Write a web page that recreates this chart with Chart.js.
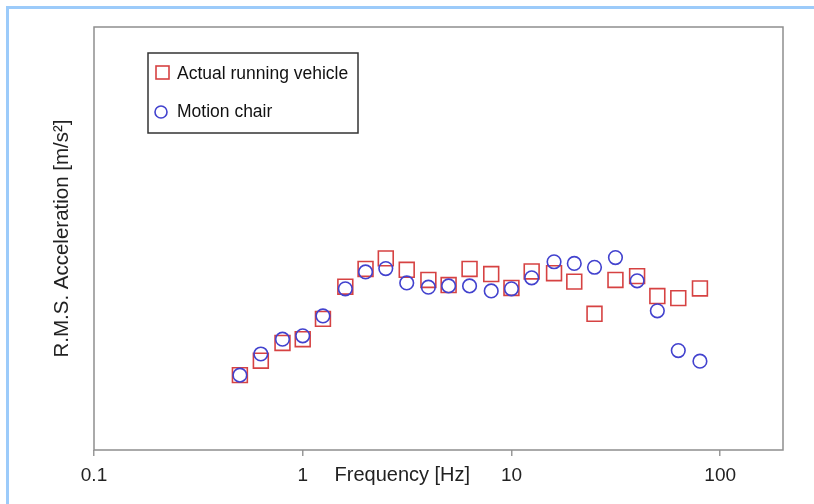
<!DOCTYPE html>
<html>
<head>
<meta charset="utf-8">
<script src="https://cdn.jsdelivr.net/npm/chart.js@4.4.0/dist/chart.umd.min.js"></script>
<style>
  body { margin: 0; background: #fff; }
  #frame { position: absolute; left: 6px; top: 6px; width: 808px; height: 498px;
           border-left: 3px solid #9ccbfa; border-top: 3px solid #9ccbfa; box-sizing: border-box; }
  #myChart { position: absolute; left: 0; top: 0; }
</style>
</head>
<body>
<div id="frame"></div>
<canvas id="myChart" width="814" height="504"></canvas>
<script>
// 1/3 octave band centre frequencies [Hz]
var freqs = [0.5, 0.63, 0.8, 1, 1.25, 1.6, 2, 2.5, 3.15, 4, 5, 6.3, 8, 10, 12.5, 16, 20, 25, 31.5, 40, 50, 63, 80];
// values (relative units, axis has no labels)
var vehicleRms = [17.7, 21.1, 25.3, 26.2, 31.0, 38.6, 42.8, 45.3, 42.6, 40.2, 39.0, 42.8, 41.6, 38.3, 42.2, 41.8, 39.8, 32.2, 40.2, 41.1, 36.4, 35.9, 38.2];
var chairRms = [17.7, 22.7, 26.2, 27.0, 31.7, 38.1, 42.1, 42.9, 39.5, 38.5, 38.8, 38.8, 37.6, 38.1, 40.7, 44.5, 44.1, 43.2, 45.5, 40.0, 32.9, 23.5, 21.0];
var xTicks = [0.1, 1, 10, 100];
var seriesNames = ['Actual running vehicle', 'Motion chair'];

var red = 'rgb(214, 66, 66)';
var blue = 'rgb(66, 66, 206)';
var font = "'Liberation Sans', Arial, sans-serif";

function toPoints(ys) {
    return freqs.map(function (f, i) { return { x: f, y: ys[i] }; });
}

// frame, x title and the boxed legend inside the plot
var extras = {
    id: 'extras',
    afterDraw: function (chart) {
        var ctx = chart.ctx;
        var a = chart.chartArea;
        ctx.save();
        ctx.strokeStyle = '#8e8e8e';
        ctx.lineWidth = 1.5;
        ctx.strokeRect(a.left, a.top, a.right - a.left, a.bottom - a.top);

        ctx.fillStyle = '#222';
        ctx.font = '20px ' + font;
        ctx.textAlign = 'center';
        ctx.textBaseline = 'middle';
        ctx.fillText('Frequency [Hz]', chart.scales.x.getPixelForValue(3), 475);

        // legend
        var lx = 148, ly = 53, lw = 210, lh = 80;
        ctx.fillStyle = '#fff';
        ctx.fillRect(lx, ly, lw, lh);
        ctx.strokeStyle = '#333';
        ctx.lineWidth = 1.5;
        ctx.strokeRect(lx, ly, lw, lh);

        ctx.lineWidth = 1.6;
        ctx.strokeStyle = red;
        ctx.strokeRect(156, 66, 13, 13);
        ctx.strokeStyle = blue;
        ctx.beginPath();
        ctx.arc(161, 112, 6, 0, Math.PI * 2);
        ctx.stroke();

        ctx.fillStyle = '#111';
        ctx.font = '17.5px ' + font;
        ctx.textAlign = 'left';
        ctx.fillText(seriesNames[0], 177, 74);
        ctx.fillText(seriesNames[1], 177, 112);
        ctx.restore();
    }
};

var ctx = document.getElementById('myChart').getContext('2d');
var myChart = new Chart(ctx, {
    type: 'scatter',
    data: {
        datasets: [{
            label: seriesNames[0],
            data: toPoints(vehicleRms),
            pointStyle: 'rect',
            pointRadius: 10.5,
            borderColor: red,
            backgroundColor: 'rgba(0,0,0,0)',
            borderWidth: 1.6,
            order: 1
        }, {
            label: seriesNames[1],
            data: toPoints(chairRms),
            pointStyle: 'circle',
            pointRadius: 6.8,
            borderColor: blue,
            backgroundColor: 'rgba(0,0,0,0)',
            borderWidth: 1.6,
            order: 0
        }]
    },
    options: {
        responsive: false,
        animation: false,
        layout: { padding: { top: 27, right: 31, left: 0, bottom: 0 } },
        plugins: {
            legend: { display: false },
            tooltip: { enabled: false }
        },
        scales: {
            x: {
                type: 'logarithmic',
                min: 0.1,
                max: 200,
                afterBuildTicks: function (scale) {
                    scale.ticks = xTicks.map(function (v) { return { value: v }; });
                },
                afterFit: function (scale) { scale.height = 54; },
                ticks: {
                    color: '#222',
                    padding: 8,
                    maxRotation: 0,
                    autoSkip: false,
                    font: { family: font, size: 19 },
                    callback: function (value) { return String(value); }
                },
                grid: {
                    drawOnChartArea: false,
                    tickLength: 6,
                    color: '#999',
                    lineWidth: 1.5
                },
                border: { display: false }
            },
            y: {
                type: 'linear',
                min: 0,
                max: 100,
                afterFit: function (scale) { scale.width = 94; },
                ticks: { display: false },
                grid: { display: false },
                border: { display: false },
                title: {
                    display: true,
                    text: 'R.M.S. Acceleration [m/s²]',
                    color: '#222',
                    font: { family: font, size: 20.5 },
                    padding: { top: 50, bottom: 0 }
                }
            }
        }
    },
    plugins: [extras]
});
</script>
</body>
</html>
